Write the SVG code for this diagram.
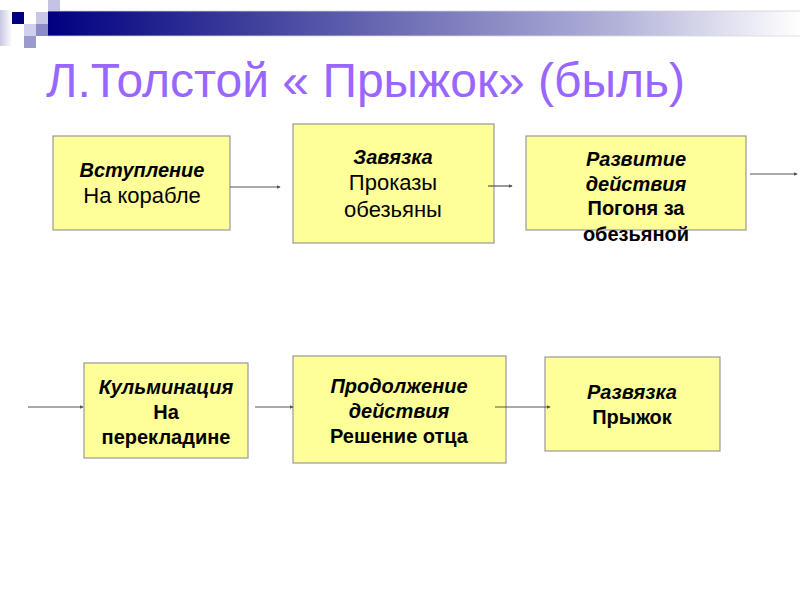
<svg xmlns="http://www.w3.org/2000/svg" width="800" height="600" viewBox="0 0 800 600">
<defs>
<linearGradient id="bar" x1="0" y1="0" x2="1" y2="0">
<stop offset="0" stop-color="#000080"/>
<stop offset="0.25" stop-color="#3a3a9a"/>
<stop offset="0.75" stop-color="#b0b0d8"/>
<stop offset="1" stop-color="#ffffff"/>
</linearGradient>
<linearGradient id="fade" x1="0" y1="0" x2="1" y2="0">
<stop offset="0" stop-color="#c8c8e4"/>
<stop offset="1" stop-color="#ffffff"/>
</linearGradient>
<marker id="ah" viewBox="0 0 6 6" refX="5" refY="3" markerWidth="4" markerHeight="4" orient="auto" markerUnits="userSpaceOnUse">
<path d="M0,0 L6,3 L0,6 z" fill="#555"/>
</marker>
<style>
.box{fill:#ffff99;stroke:#999999;stroke-width:1.2}
.t{font-family:"Liberation Sans",Arial,sans-serif;font-size:20px;fill:#000;text-anchor:middle}
.r{font-size:22px}
.bi{font-weight:bold;font-style:italic}
.b{font-weight:bold}
.c{stroke:#555;stroke-width:1.2;fill:none;marker-end:url(#ah)}
</style>
</defs>
<rect width="800" height="600" fill="#ffffff"/>
<g id="decor">
<rect x="0" y="10" width="12" height="36" fill="url(#fade)"/>
<rect x="12" y="12" width="12" height="12" fill="#000080"/>
<rect x="48" y="0" width="12" height="12" fill="#c4c4e2"/>
<rect x="36" y="12" width="12" height="12" fill="#c8c8e6"/>
<rect x="24" y="24" width="12" height="12" fill="#d0d0ea"/>
<rect x="36" y="24" width="12" height="12" fill="#8c8cc6"/>
<rect x="24" y="36" width="12" height="12" fill="#9a9acc"/>
<rect x="48" y="11" width="752" height="25" fill="url(#bar)"/>
<line x1="48" y1="11" x2="800" y2="11" stroke="#d0d0d8" stroke-width="0.8"/>
<line x1="48" y1="36" x2="800" y2="36" stroke="#d8d8e0" stroke-width="0.8"/>
</g>
<text x="46" y="97" font-family="'Liberation Sans',Arial,sans-serif" font-size="48" fill="#9966ff">Л.Толстой « Прыжок» (быль)</text>
<g id="n1">
<rect class="box" x="53" y="136" width="177" height="94"/>
<text class="t bi" x="142" y="177">Вступление</text>
<text class="t r" x="142" y="203">На корабле</text>
</g>
<g id="n2">
<rect class="box" x="293" y="124" width="201" height="119"/>
<text class="t bi" x="393" y="164">Завязка</text>
<text class="t r" x="393" y="190">Проказы</text>
<text class="t r" x="393" y="217">обезьяны</text>
</g>
<g id="n3">
<rect class="box" x="526" y="136" width="220" height="94"/>
<text class="t bi" x="636" y="166">Развитие</text>
<text class="t bi" x="636" y="191">действия</text>
<text class="t b" x="636" y="215">Погоня за</text>
<text class="t b" x="636" y="241">обезьяной</text>
</g>
<g id="n4">
<rect class="box" x="84" y="363" width="164" height="95"/>
<text class="t bi" x="166" y="394">Кульминация</text>
<text class="t b" x="166" y="419">На</text>
<text class="t b" x="166" y="444">перекладине</text>
</g>
<g id="n5">
<rect class="box" x="293" y="356" width="213" height="107"/>
<text class="t bi" x="399" y="393">Продолжение</text>
<text class="t bi" x="399" y="418">действия</text>
<text class="t b" x="399" y="443">Решение отца</text>
</g>
<g id="n6">
<rect class="box" x="545" y="357" width="175" height="94"/>
<text class="t bi" x="632" y="399">Развязка</text>
<text class="t b" x="632" y="424">Прыжок</text>
</g>
<g id="connectors">
<line class="c" x1="230" y1="187" x2="280" y2="187"/>
<line class="c" x1="488" y1="186" x2="512" y2="186"/>
<line class="c" x1="750" y1="174" x2="797" y2="174"/>
<line class="c" x1="28" y1="407" x2="83" y2="407"/>
<line class="c" x1="255" y1="407" x2="293" y2="407"/>
<line class="c" x1="495" y1="407" x2="550" y2="407"/>
</g>
</svg>
